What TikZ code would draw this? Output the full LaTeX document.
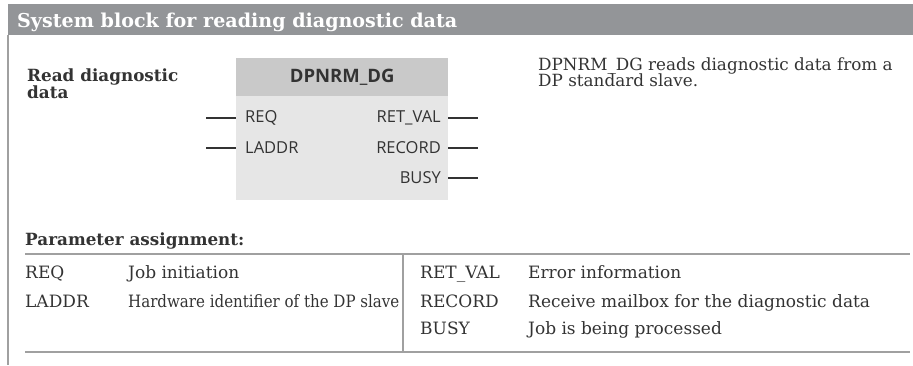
\documentclass[tikz,border=0pt]{standalone}
\usepackage{fontspec}
\setmainfont{DejaVu Serif}
\newfontfamily\pinfont{Open Sans}
\definecolor{headgray}{HTML}{939598}
\definecolor{blkhead}{HTML}{C9C9C9}
\definecolor{blkbody}{HTML}{E6E6E6}
\definecolor{textdark}{HTML}{333333}
\definecolor{rulegray}{HTML}{A0A0A0}
\begin{document}
\begin{tikzpicture}[x=1pt,y=-1pt,
  body/.style={anchor=base west, inner sep=0, text=textdark, font=\fontsize{17}{20}\selectfont},
  bodybold/.style={anchor=base west, inner sep=0, text=textdark, font=\fontsize{16.8}{18}\selectfont\bfseries},
  pinlbl/.style={inner sep=0, text=textdark, font=\pinfont\fontsize{16.5}{18}\selectfont},
  pinline/.style={draw=textdark, line width=1.1pt},
  rule/.style={draw=rulegray, line width=1.3pt}]
\useasboundingbox (0,0) rectangle (913,365);
% header bar
\fill[headgray] (8,4) rectangle (913,35);
\node[anchor=base west, inner sep=0, text=white, font=\fontsize{19.1}{22}\selectfont\bfseries] (title) at (17,27) {System block for reading diagnostic data};
% left rule
\draw[rule] (8,35) -- (8,365);
% heading
\node[bodybold] (rd1) at (27,81) {Read diagnostic};
\node[bodybold] (rd2) at (27,98) {data};
% block
\node[fill=blkhead, minimum width=212pt, minimum height=38pt, inner sep=0, anchor=north west] (bh) at (236,58) {};
\node[fill=blkbody, minimum width=212pt, minimum height=104pt, inner sep=0, anchor=north west] (bb) at (236,96) {};
\node[inner sep=0, text=textdark, font=\pinfont\fontsize{18.5}{20}\selectfont\bfseries] (bname) at (bh.center) {DPNRM\_DG};
% pins
\node[pinlbl, anchor=west] (req) at (245,118) {REQ};
\node[pinlbl, anchor=west] (laddr) at (245,148) {LADDR};
\node[pinlbl, anchor=east] (retval) at (441,118) {RET\_VAL};
\node[pinlbl, anchor=east] (record) at (441,148) {RECORD};
\node[pinlbl, anchor=east] (busy) at (441,178) {BUSY};
\coordinate (reqin) at (206,118);
\coordinate (laddrin) at (206,148);
\coordinate (retout) at (478,118);
\coordinate (recout) at (478,148);
\coordinate (busyout) at (478,178);
\draw[pinline] (reqin) -- (reqin -| bb.west);
\draw[pinline] (laddrin) -- (laddrin -| bb.west);
\draw[pinline] (retout -| bb.east) -- (retout);
\draw[pinline] (recout -| bb.east) -- (recout);
\draw[pinline] (busyout -| bb.east) -- (busyout);
% description
\node[body, font=\fontsize{16.8}{20}\selectfont] (d1) at (538,70) {DPNRM\_DG reads diagnostic data from a};
\node[body, font=\fontsize{16.8}{20}\selectfont] (d2) at (538,86) {DP standard slave.};
% parameter table
\node[bodybold] (pa) at (25,245) {Parameter assignment:};
\coordinate (tl) at (25,254);
\coordinate (tr) at (910,254);
\coordinate (bl) at (25,352);
\coordinate (br) at (910,352);
\coordinate (dt) at (403,254);
\coordinate (db) at (403,352);
\draw[rule] (tl) -- (tr);
\draw[rule] (bl) -- (br);
\draw[rule] (dt) -- (db);
\node[body] (p1) at (25,278) {REQ};
\node[body] (p2) at (25,307) {LADDR};
\node[body] (p1d) at (128,278) {Job initiation};
\node[body] (p2d) at (128,307) {\scalebox{0.885}[1]{Hardware identifier of the DP slave}};
\node[body] (q1) at (420,278) {RET\_VAL};
\node[body] (q2) at (420,307) {RECORD};
\node[body] (q3) at (420,334) {BUSY};
\node[body] (q1d) at (528,278) {Error information};
\node[body] (q2d) at (528,307) {Receive mailbox for the diagnostic data};
\node[body] (q3d) at (528,334) {Job is being processed};
\end{tikzpicture}
\end{document}
